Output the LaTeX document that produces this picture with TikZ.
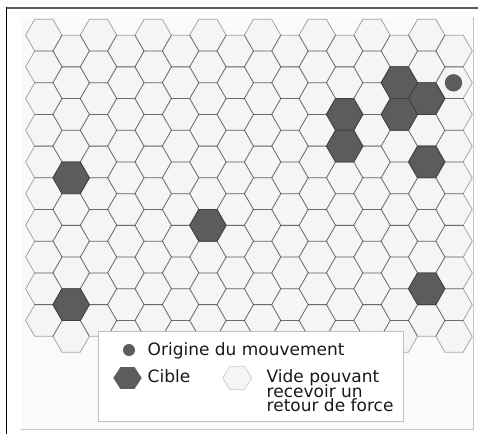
\documentclass[tikz,border=0pt]{standalone}
\usepackage{fontspec}
\setmainfont{DejaVu Sans}
\definecolor{hexfill}{HTML}{F5F5F5}
\definecolor{bgfill}{HTML}{FAFAFA}
\definecolor{darkhex}{HTML}{5C5C5C}
\newcommand\legfont{\fontsize{17}{14.7}\selectfont\setlength{\lineskiplimit}{-30pt}\relax}
\tikzset{
  hexshape/.pic={\path[pic actions] (18.2,0) -- (9.1,15.85) -- (-9.1,15.85) -- (-18.2,0) -- (-9.1,-15.85) -- (9.1,-15.85) -- cycle;},
  hexline/.style={draw=black, draw opacity=0.33, line width=0.8pt},
  darkstyle/.style={fill=darkhex, draw=black!75, line width=0.8pt},
  legtext/.style={font=\legfont, inner sep=0pt, text=black!90},
  legendbox/.style={draw=gray!50, fill=white, line width=0.9pt},
}
\begin{document}
\begin{tikzpicture}[x=1pt,y=-1pt]
\useasboundingbox (0,0) rectangle (478,434);
\fill[white] (0,0) rectangle (478,434);
\fill[bgfill] (21,17) rectangle (473.3,429.5);
\draw[gray!45, line width=1pt] (21,429.5) -- (473.3,429.5) -- (473.3,17);
\draw[black!65, line width=2pt] (5.5,8.3) -- (478,8.3);
\draw[black, line width=1.4pt] (6.4,7.3) -- (6.4,434);
% hex grid fill
\foreach \c in {0,...,15} {
  \foreach \r in {0,...,9} {
    \pgfmathsetmacro\cx{43.8+27.35*\c}
    \pgfmathsetmacro\cy{35.15+31.7*\r+15.85*mod(\c,2)}
    \pic[fill=hexfill] at (\cx,\cy) {hexshape};
  }
}
% hex grid strokes
\foreach \c in {0,...,15} {
  \foreach \r in {0,...,9} {
    \pgfmathsetmacro\cx{43.8+27.35*\c}
    \pgfmathsetmacro\cy{35.15+31.7*\r+15.85*mod(\c,2)}
    \pic[hexline] at (\cx,\cy) {hexshape};
  }
}
% targets
\foreach \c/\r in {1/4,1/8,6/6,13/1,14/2,13/2,11/2,11/3,14/4,14/8} {
  \pgfmathsetmacro\cx{43.8+27.35*\c}
  \pgfmathsetmacro\cy{35.15+31.7*\r+15.85*mod(\c,2)}
  \pic[darkstyle] at (\cx,\cy) {hexshape};
}
% origin
\fill[darkhex] (453.5,82.8) circle (8.7);
% legend
\draw[legendbox] (98,331) rectangle (403,421);
\fill[darkhex] (129,350) circle (6);
\node[legtext, anchor=base west] (orig) at (147.5,355) {Origine du mouvement};
\fill[darkhex] (113.3,378) -- (120.4,367.2) -- (134.6,367.2) -- (141.7,378) -- (134.6,388.8) -- (120.4,388.8) -- cycle;
\node[legtext, anchor=base west] (cible) at (147.5,382.3) {Cible};
\filldraw[fill=hexfill, draw=gray!40, line width=0.7pt] (222.7,378) -- (230,366.2) -- (244.4,366.2) -- (251.7,378) -- (244.4,389.8) -- (230,389.8) -- cycle;
\node[legtext, anchor=base west, align=left] (vide) at (266.5,411.7) {Vide pouvant\\recevoir un\\retour de force};
\end{tikzpicture}
\end{document}
